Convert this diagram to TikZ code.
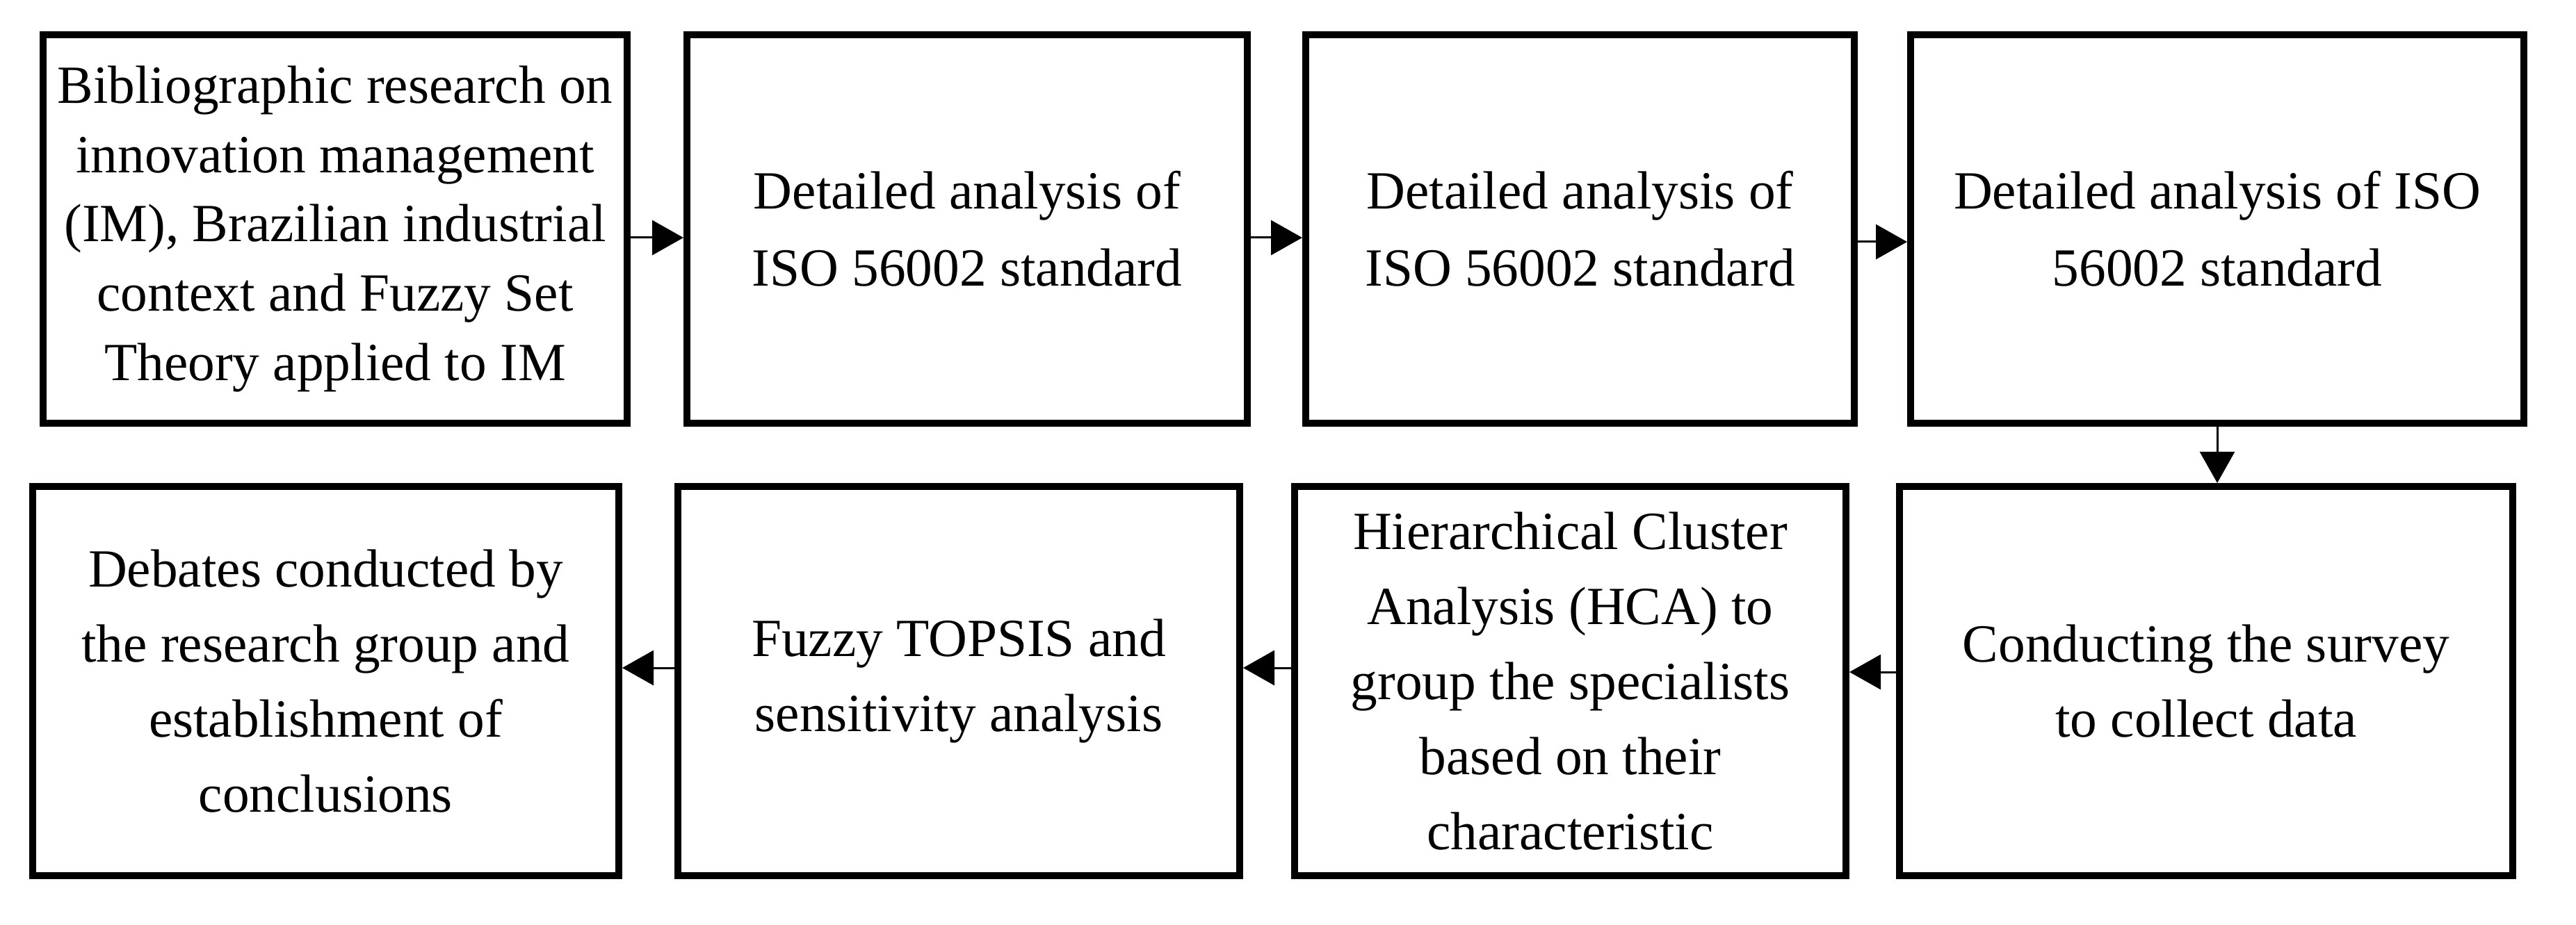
\documentclass[tikz,border=0pt]{standalone}
\usepackage{fontspec}
\setmainfont{Liberation Serif}
\usetikzlibrary{arrows.meta,positioning}

\tikzset{
	stage/.style={draw,line width=0.1cm,rectangle,align=center,minimum height=5.59cm,inner sep=0pt,
		font=\fontsize{22pt}{30.7pt}\selectfont},
	flow/.style={line width=0.03cm,-{Triangle[length=0.45cm,width=0.5cm]}}
}

\begin{document}
\begin{tikzpicture}

\useasboundingbox (0,0) rectangle (37.05,-13.31);

% top row
\node [stage,minimum width=8.4cm,font=\fontsize{22pt}{28.4pt}\selectfont] (b1) at (4.82,-3.295)
	{Bibliographic research on\\innovation management\\(IM), Brazilian industrial\\context and Fuzzy Set\\Theory applied to IM};
\node [stage,minimum width=8.06cm,font=\fontsize{22pt}{31.5pt}\selectfont] (b2) [right=0.76 of b1] {Detailed analysis of\\ISO 56002 standard};
\node [stage,minimum width=7.89cm,font=\fontsize{22pt}{31.5pt}\selectfont] (b3) [right=0.74 of b2] {Detailed analysis of\\ISO 56002 standard};
\node [stage,minimum width=8.82cm,font=\fontsize{22pt}{31.5pt}\selectfont] (b4) [right=0.71 of b3] {Detailed analysis of ISO\\56002 standard};

% bottom row
\node [stage,minimum width=8.82cm,minimum height=5.6cm] (b5) at (31.73,-9.80) {Conducting the survey\\to collect data};
\node [stage,minimum width=7.93cm,minimum height=5.6cm] (b6) [left=0.67 of b5]
	{Hierarchical Cluster\\Analysis (HCA) to\\group the specialists\\based on their\\characteristic};
\node [stage,minimum width=8.08cm,minimum height=5.6cm] (b7) [left=0.69 of b6] {Fuzzy TOPSIS and\\sensitivity analysis};
\node [stage,minimum width=8.43cm,minimum height=5.6cm] (b8) [left=0.75 of b7]
	{Debates conducted by\\the research group and\\establishment of\\conclusions};

\coordinate (r1) at (0,-3.42);
\coordinate (r2) at (0,-3.48);
\coordinate (r3) at (0,-9.67);
\coordinate (r4) at (0,-9.61);

\draw [flow] (b1.east |- r1) -- (b2.west |- r1);
\draw [flow] (b2.east |- r1) -- (b3.west |- r1);
\draw [flow] (b3.east |- r2) -- (b4.west |- r2);
\draw [flow] (b4.south) -- (b4.south |- b5.north);
\draw [flow] (b5.west |- r3) -- (b6.east |- r3);
\draw [flow] (b6.west |- r4) -- (b7.east |- r4);
\draw [flow] (b7.west |- r4) -- (b8.east |- r4);

\end{tikzpicture}
\end{document}
